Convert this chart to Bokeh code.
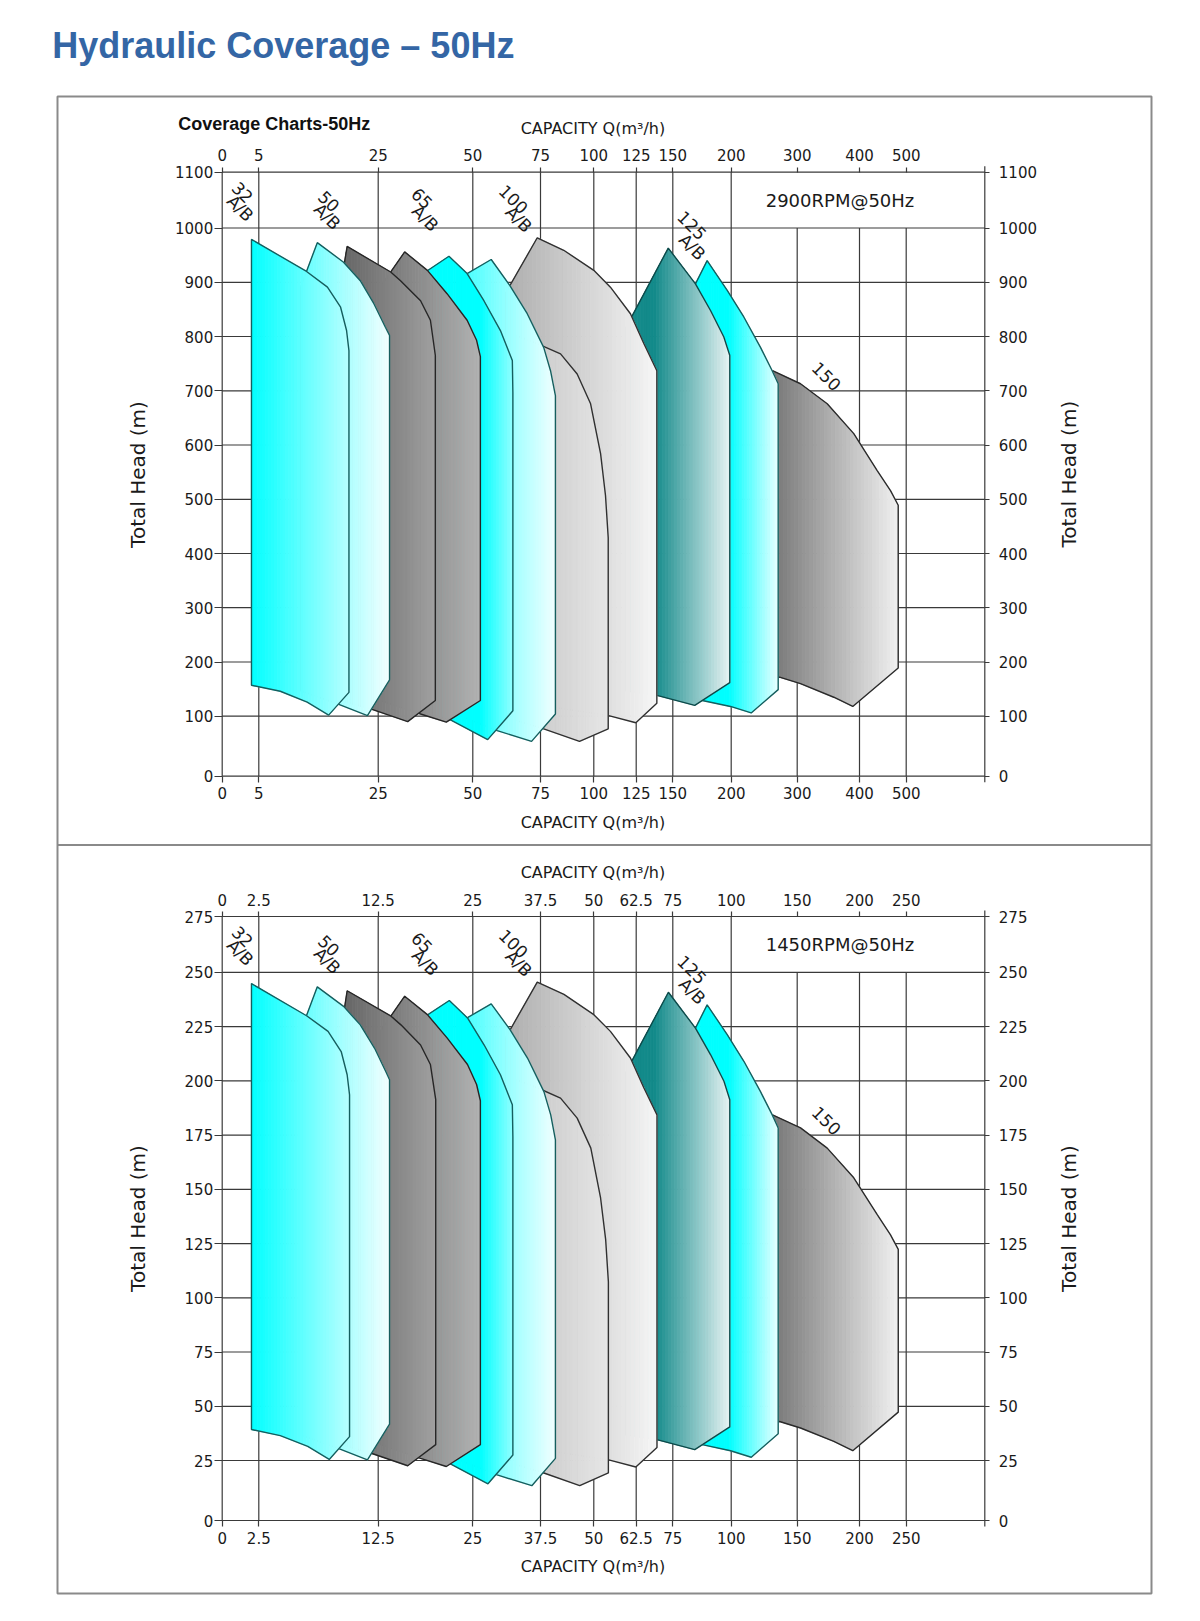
import numpy as np
from bokeh.plotting import figure
from bokeh.models import Range1d, LinearAxis, FixedTicker, Label, ColumnDataSource
from bokeh.embed import file_html
from bokeh.resources import INLINE

# ---------------- tick values ----------------
Q_TICKS_2900 = [0, 5, 25, 50, 75, 100, 125, 150, 200, 300, 400, 500]
H_TICKS_2900 = [0, 100, 200, 300, 400, 500, 600, 700, 800, 900, 1000, 1100]
Q_TICKS_1450 = [0, 2.5, 12.5, 25, 37.5, 50, 62.5, 75, 100, 150, 200, 250]
H_TICKS_1450 = [0, 25, 50, 75, 100, 125, 150, 175, 200, 225, 250, 275]

# ---------------- coverage envelopes, 2900 rpm (Q m3/h, H m) ----------------
Q01_2900 = [4.0, 4.0, 13.0, 16.5, 18.7, 19.7, 20.1, 20.1, 16.7, 13.1, 8.6]
H01_2900 = [157, 979, 920, 891, 854, 811, 774, 144, 102, 126, 146]
Q02_2900 = [12.0, 12.0, 14.8, 19.2, 22.0, 24.3, 26.9, 28.0, 28.0, 23.2, 18.4]
H02_2900 = [147, 891, 973, 937, 903, 860, 817, 802, 167, 101, 122]
Q03_2900 = [18.7, 18.7, 19.8, 28.3, 30.9, 36.2, 38.8, 40.1, 40.1, 32.8, 24.1]
H03_2900 = [129, 894, 966, 919, 903, 866, 830, 765, 129, 91, 112]
Q04_2900 = [25.6, 25.6, 32.0, 38.0, 43.2, 48.5, 51.4, 52.8, 52.8, 43.0, 36.2]
H04_2900 = [129, 892, 956, 922, 879, 830, 793, 763, 129, 90, 104]
Q05_2900 = [36.2, 36.2, 43.7, 48.5, 54.1, 60.2, 64.6, 64.8, 64.8, 55.5, 44.1]
H05_2900 = [107, 913, 948, 916, 866, 811, 756, 697, 110, 61, 94]
Q06_2900 = [46.8, 46.8, 56.8, 63.7, 70.1, 76.5, 79.7, 82.0, 82.0, 71.7, 59.0]
H06_2900 = [100, 909, 942, 894, 842, 780, 737, 691, 104, 58, 76]
Q07_2900 = [62.1, 62.1, 73.8, 85.9, 100, 109.8, 121.6, 130.2, 139.1, 139.1, 124.8, 108.8, 75.0]
H07_2900 = [129, 880, 982, 959, 922, 891, 842, 787, 737, 124, 89, 101, 120]
Q08_2900 = [65.8, 65.8, 73.8, 84.4, 92.2, 98.5, 104.0, 106.9, 108.5, 108.5, 93.3, 76.5]
H08_2900 = [93, 802, 787, 768, 731, 676, 584, 507, 429, 79, 58, 79]
Q09_2900 = [118.7, 118.7, 146.9, 169.4, 182.3, 193.7, 198.8, 198.8, 168.8, 139.8]
H09_2900 = [147, 815, 963, 897, 848, 799, 765, 162, 120, 138]
Q10_2900 = [165.2, 165.2, 179.4, 196.6, 219.1, 244.4, 262.1, 271.2, 271.2, 230.3, 199.4, 175.2]
H10_2900 = [135, 879, 940, 885, 836, 780, 737, 713, 149, 106, 118, 129]
Q11_2900 = [262.6, 262.6, 305.3, 348.2, 390.8, 437.9, 466.4, 482.9, 482.9, 389.2, 358.7, 305.3, 273.2]
H11_2900 = [171, 737, 713, 676, 621, 553, 516, 489, 189, 118, 135, 160, 172]

# ---------------- coverage envelopes, 1450 rpm (Q m3/h, H m) ----------------
Q01_1450 = [2.0, 2.0, 6.5, 8.3, 9.4, 9.9, 10.1, 10.1, 8.4, 6.6, 4.3]
H01_1450 = [39.3, 244.8, 230.0, 222.8, 213.5, 202.8, 193.5, 36.0, 25.5, 31.5, 36.5]
Q02_1450 = [6.0, 6.0, 7.4, 9.6, 11.0, 12.2, 13.5, 14.0, 14.0, 11.6, 9.2]
H02_1450 = [36.8, 222.8, 243.3, 234.3, 225.8, 215.0, 204.3, 200.5, 41.8, 25.3, 30.5]
Q03_1450 = [9.4, 9.4, 9.9, 14.2, 15.5, 18.1, 19.4, 20.1, 20.1, 16.4, 12.1]
H03_1450 = [32.3, 223.5, 241.5, 229.8, 225.8, 216.5, 207.5, 191.3, 32.3, 22.8, 28.0]
Q04_1450 = [12.8, 12.8, 16.0, 19.0, 21.6, 24.3, 25.7, 26.4, 26.4, 21.5, 18.1]
H04_1450 = [32.3, 223.0, 239.0, 230.5, 219.8, 207.5, 198.3, 190.8, 32.3, 22.5, 26.0]
Q05_1450 = [18.1, 18.1, 21.9, 24.3, 27.1, 30.1, 32.3, 32.4, 32.4, 27.8, 22.1]
H05_1450 = [26.8, 228.3, 237.0, 229.0, 216.5, 202.8, 189.0, 174.3, 27.5, 15.3, 23.5]
Q06_1450 = [23.4, 23.4, 28.4, 31.9, 35.1, 38.3, 39.9, 41.0, 41.0, 35.9, 29.5]
H06_1450 = [25.0, 227.3, 235.5, 223.5, 210.5, 195.0, 184.3, 172.8, 26.0, 14.5, 19.0]
Q07_1450 = [31.1, 31.1, 36.9, 43.0, 50.0, 54.9, 60.8, 65.1, 69.6, 69.6, 62.4, 54.4, 37.5]
H07_1450 = [32.3, 220.0, 245.5, 239.8, 230.5, 222.8, 210.5, 196.8, 184.3, 31.0, 22.3, 25.3, 30.0]
Q08_1450 = [32.9, 32.9, 36.9, 42.2, 46.1, 49.3, 52.0, 53.5, 54.3, 54.3, 46.7, 38.3]
H08_1450 = [23.3, 200.5, 196.8, 192.0, 182.8, 169.0, 146.0, 126.8, 107.3, 19.8, 14.5, 19.8]
Q09_1450 = [59.4, 59.4, 73.5, 84.7, 91.2, 96.9, 99.4, 99.4, 84.4, 69.9]
H09_1450 = [36.8, 203.8, 240.8, 224.3, 212.0, 199.8, 191.3, 40.5, 30.0, 34.5]
Q10_1450 = [82.6, 82.6, 89.7, 98.3, 109.6, 122.2, 131.1, 135.6, 135.6, 115.2, 99.7, 87.6]
H10_1450 = [33.8, 219.8, 235.0, 221.3, 209.0, 195.0, 184.3, 178.3, 37.3, 26.5, 29.5, 32.3]
Q11_1450 = [131.3, 131.3, 152.7, 174.1, 195.4, 219.0, 233.2, 241.5, 241.5, 194.6, 179.4, 152.7, 136.6]
H11_1450 = [42.8, 184.3, 178.3, 169.0, 155.3, 138.3, 129.0, 122.3, 47.3, 29.5, 33.8, 40.0, 43.0]

ENVELOPES_2900 = [(Q01_2900, H01_2900), (Q02_2900, H02_2900), (Q03_2900, H03_2900),
                  (Q04_2900, H04_2900), (Q05_2900, H05_2900), (Q06_2900, H06_2900),
                  (Q07_2900, H07_2900), (Q08_2900, H08_2900), (Q09_2900, H09_2900),
                  (Q10_2900, H10_2900), (Q11_2900, H11_2900)]
ENVELOPES_1450 = [(Q01_1450, H01_1450), (Q02_1450, H02_1450), (Q03_1450, H03_1450),
                  (Q04_1450, H04_1450), (Q05_1450, H05_1450), (Q06_1450, H06_1450),
                  (Q07_1450, H07_1450), (Q08_1450, H08_1450), (Q09_1450, H09_1450),
                  (Q10_1450, H10_1450), (Q11_1450, H11_1450)]

GROUP_TEXT = ["32", "A/B", "50", "A/B", "65", "A/B", "100", "A/B", "125", "A/B", "150"]

# ---------------- styles ----------------
# (left colour, right colour, gradient start fraction, outline colour)
SHAPE_STYLE = [
    ("#00ffff", "#b8ffff", 0.0, "#155e5e"),
    ("#60ffff", "#f2ffff", 0.0, "#155e5e"),
    ("#646464", "#a0a0a0", 0.0, "#262626"),
    ("#747474", "#b2b2b2", 0.0, "#262626"),
    ("#00ffff", "#90ffff", 0.65, "#155e5e"),
    ("#3effff", "#f0ffff", 0.0, "#155e5e"),
    ("#adadad", "#f6f6f6", 0.0, "#303030"),
    ("#c4c4c4", "#e6e6e6", 0.0, "#303030"),
    ("#138a8a", "#e6f2f2", 0.28, "#0d4a4a"),
    ("#00ffff", "#e8ffff", 0.44, "#155e5e"),
    ("#767676", "#f0f0f0", 0.0, "#2a2a2a"),
]
DRAW_ORDER = [10, 9, 8, 6, 7, 5, 4, 3, 2, 1, 0]
# label anchor offsets (px within a chart)
GROUP_POS = [(20.5, 584), (18, 568), (106.8, 575), (105, 559.7), (200, 578), (203, 558),
             (291.5, 577), (296.5, 557), (470, 551), (470, 529.3), (604.5, 400)]
# the chart's hand-drawn scale: screen offsets (px) of the tick values on each axis
X_KNOTS = [0, 36.6, 156, 250.6, 318.3, 371.6, 414, 450.6, 509, 575, 637.3, 684]
Y_KNOTS = [0, 60, 114.2, 168.5, 222.7, 276.9, 331.2, 385.4, 439.7, 493.9, 548.2, 604]
X_END = 762.6
# (rpm text, vertical offset of chart, q ticks, h ticks, envelopes, left title standoff)
CHARTS = [("2900RPM@50Hz", 0.0, Q_TICKS_2900, H_TICKS_2900, ENVELOPES_2900, 22),
          ("1450RPM@50Hz", -744.3, Q_TICKS_1450, H_TICKS_1450, ENVELOPES_1450, 32)]

FONT = "DejaVu Sans"
INK = "#1a1a1a"
GRID = "#3a3a3a"
BOX = "#8a8a8a"

CANVAS_W, CANVAS_H = 1153, 1595
X_LEFT, Y_TOP = -221.7, 775.7          # page origin in chart units
BOX_L, BOX_R, BOX_T, BOX_B, BOX_MID = -164.7, 929.3, 679.7, -817.3, -68.7


def hex2rgb(h):
    return tuple(int(h[i:i + 2], 16) for i in (1, 3, 5))


def mix(c0, c1, u):
    a, b = hex2rgb(c0), hex2rgb(c1)
    return "#%02x%02x%02x" % tuple(int(round(a[k] + (b[k] - a[k]) * u)) for k in range(3))


def clip_side(pts, keep, x0):
    out = []
    n = len(pts)
    for i in range(n):
        cur, prev = pts[i], pts[i - 1]
        cin, pin = keep(cur), keep(prev)
        if cin != pin:
            t = (x0 - prev[0]) / (cur[0] - prev[0])
            out.append((x0, prev[1] + (cur[1] - prev[1]) * t))
        if cin:
            out.append(cur)
    return out


def clip_band(poly, xa, xb):
    pts = clip_side(poly, lambda p: p[0] >= xa, xa)
    if len(pts) >= 3:
        pts = clip_side(pts, lambda p: p[0] <= xb, xb)
    return pts


p = figure(frame_width=CANVAS_W, frame_height=CANVAS_H,
           x_range=Range1d(X_LEFT, X_LEFT + CANVAS_W), y_range=Range1d(Y_TOP - CANVAS_H, Y_TOP),
           x_axis_location=None, y_axis_location=None,
           min_border=0, min_border_left=0, min_border_top=0, min_border_right=0, min_border_bottom=0,
           output_backend="svg", toolbar_location=None, outline_line_color=None,
           background_fill_color="white", border_fill_color="white")
p.grid.visible = False

# outer boxes
p.quad(left=[BOX_L], right=[BOX_R], top=[BOX_T], bottom=[BOX_B],
       fill_color=None, line_color=BOX, line_width=2)
p.segment(x0=[BOX_L], y0=[BOX_MID], x1=[BOX_R], y1=[BOX_MID], line_color=BOX, line_width=2)


def style_axis(ax, tick_out, standoff):
    ax.axis_line_color = None
    ax.major_tick_line_color = GRID
    ax.major_tick_line_width = 1.2
    ax.major_tick_out = tick_out
    ax.major_tick_in = 0
    ax.minor_tick_line_color = None
    ax.major_label_standoff = standoff
    ax.major_label_text_font = FONT
    ax.major_label_text_font_size = "15px"
    ax.major_label_text_color = INK
    ax.axis_label_text_font = FONT
    ax.axis_label_text_font_style = "normal"
    ax.axis_label_text_color = INK


bg_labels, fg_labels = [], []
for rpm_text, y0, q_ticks, h_ticks, envelopes, title_standoff in CHARTS:
    xt = [float(v) for v in X_KNOTS]
    yt = [round(y0 + v, 2) for v in Y_KNOTS]
    xlab = {x: f"{q:g}" for x, q in zip(xt, q_ticks)}
    ylab = {y: f"{h:g}" for y, h in zip(yt, h_ticks)}

    # grid and chart frame
    sx0, sy0, sx1, sy1 = [], [], [], []
    for y in yt:
        sx0.append(0.0); sy0.append(y); sx1.append(X_END); sy1.append(y)
    for i, x in enumerate(xt[1:], start=1):
        sx0.append(x); sy0.append(yt[0]); sx1.append(x); sy1.append(yt[-1] if i < 9 else yt[10])
    sx0 += [0.0, X_END]; sy0 += [yt[0], yt[0] - 6]; sx1 += [0.0, X_END]; sy1 += [yt[-1], yt[-1] + 6]
    p.segment(sx0, sy0, sx1, sy1, line_color=GRID, line_width=1.2)

    # envelopes, right-most first so left ones overlap
    for idx in DRAW_ORDER:
        qs, hs = envelopes[idx]
        c0, c1, t0, lc = SHAPE_STYLE[idx]
        xs = np.interp(qs, q_ticks, X_KNOTS)
        ys = np.interp(hs, h_ticks, Y_KNOTS) + y0
        poly = list(zip(xs, ys))
        xmin, xmax = float(xs.min()), float(xs.max())
        n = 34
        edges = np.linspace(xmin, xmax, n + 1)
        bx, by, cols = [], [], []
        for i in range(n):
            pts = clip_band(poly, edges[i], edges[i + 1])
            if len(pts) < 3:
                continue
            tt = ((edges[i] + edges[i + 1]) / 2 - xmin) / (xmax - xmin)
            u = min(max((tt - t0) / (1 - t0), 0.0), 1.0)
            cols.append(mix(c0, c1, u))
            bx.append([q[0] for q in pts]); by.append([q[1] for q in pts])
        src = ColumnDataSource(dict(xs=bx, ys=by, c=cols))
        p.patches(xs="xs", ys="ys", fill_color="c", line_color="c", line_width=0.9, source=src)
        p.patch(list(xs), list(ys), fill_color=None, line_color=lc, line_width=1.4)

    # axes
    left = LinearAxis(ticker=FixedTicker(ticks=yt), fixed_location=0.0,
                      bounds=(yt[0] - 1, yt[-1] + 1), major_label_overrides=ylab,
                      axis_label="Total Head (m)")
    style_axis(left, 8, 1)
    left.axis_label_standoff = title_standoff
    left.axis_label_text_font_size = "20px"
    p.add_layout(left, "left")

    right = LinearAxis(ticker=FixedTicker(ticks=yt), fixed_location=X_END,
                       bounds=(yt[0] - 1, yt[-1] + 1), major_label_overrides=ylab)
    style_axis(right, 5, 9)
    p.add_layout(right, "right")

    top = LinearAxis(ticker=FixedTicker(ticks=xt), fixed_location=yt[-1],
                     bounds=(-1.0, 747.6), major_label_overrides=xlab,
                     axis_label="CAPACITY  Q(m³/h)")
    style_axis(top, 5, 6)
    top.axis_label_standoff = 9
    top.axis_label_text_font_size = "16px"
    p.add_layout(top, "above")

    bottom = LinearAxis(ticker=FixedTicker(ticks=xt), fixed_location=yt[0],
                        bounds=(-1.0, 747.6), major_label_overrides=xlab,
                        axis_label="CAPACITY  Q(m³/h)")
    style_axis(bottom, 6, 5)
    bottom.axis_label_standoff = 10
    bottom.axis_label_text_font_size = "16px"
    p.add_layout(bottom, "below")

    p.add_layout(Label(x=846.3, y=y0 + 302, text="Total Head (m)", angle=90, angle_units="deg",
                       text_align="center", text_baseline="middle", text_font=FONT,
                       text_font_size="20px", text_color=INK))
    p.add_layout(Label(x=617.8, y=y0 + 576.2, text=rpm_text, text_align="center",
                       text_baseline="middle", text_font=FONT, text_font_size="18px",
                       text_color=INK))
    for txt, (gx, gy) in zip(GROUP_TEXT, GROUP_POS):
        kw = dict(x=gx, y=y0 + gy, text=txt, angle=-45, angle_units="deg",
                  text_align="center", text_baseline="middle", text_font=FONT,
                  text_font_size="17px", text_color=INK)
        bg_labels.append(Label(background_fill_color="white", text_alpha=0.0, **kw))
        fg_labels.append(Label(**kw))

# white knock-outs first, then the texts, so neighbouring texts never cover each other
for lab in bg_labels + fg_labels:
    p.add_layout(lab)

p.add_layout(Label(x=-43.9, y=652.7, text="Coverage Charts-50Hz", text_align="left",
                   text_baseline="middle", text_font="Liberation Sans", text_font_style="bold",
                   text_font_size="18px", text_color="#111111"))
p.add_layout(Label(x=-170.0, y=730.7, text="Hydraulic Coverage – 50Hz", text_align="left",
                   text_baseline="alphabetic", text_font="Liberation Sans", text_font_style="bold",
                   text_font_size="36px", text_color="#3466a5"))

open("out.html", "w", encoding="utf-8").write(file_html(p, INLINE, "Hydraulic Coverage – 50Hz"))
